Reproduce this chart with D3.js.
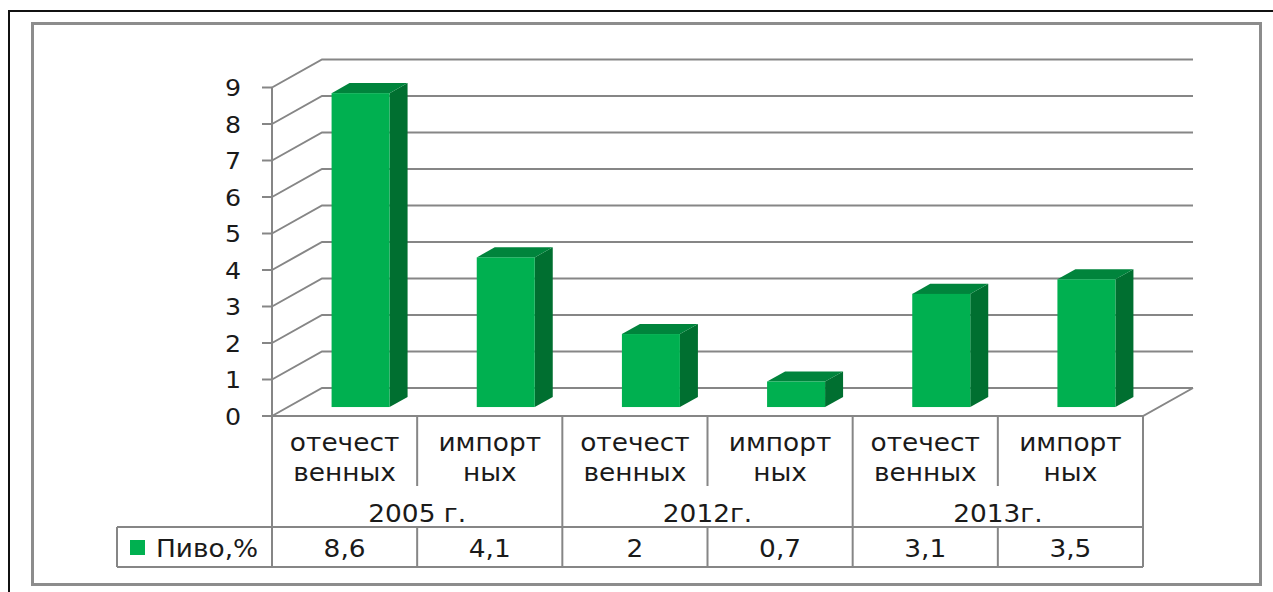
<!DOCTYPE html>
<html>
<head>
<meta charset="utf-8">
<script src="https://cdn.jsdelivr.net/npm/d3@7"></script>
<style>
  body { margin: 0; background: #fff; }
  svg { display: block; }
  text { font-family: "DejaVu Sans", Verdana, sans-serif; fill: #1a1a1a; }
</style>
</head>
<body>
<div id="chart"></div>
<script>
// Chart data
const groups = ["2005 г.", "2012г.", "2013г."];
const categoryLines = [["отечест", "венных"], ["импорт", "ных"]];
const seriesName = "Пиво,%";
const values = [8.6, 4.1, 2, 0.7, 3.1, 3.5];
const valueLabels = ["8,6", "4,1", "2", "0,7", "3,1", "3,5"];
const yTicks = [0, 1, 2, 3, 4, 5, 6, 7, 8, 9];

const width = 1273;
const height = 592;

// 3D depth of the plot box and bar placement inside it
const depthX = 50, depthY = -28;
const barFront = 0.32, barBack = 0.68;
const barWidth = 58;
const stretch = 1.1; // text in the original is a bit wide

const gridColor = "#868686";
const green = "#00b050", greenTop = "#00843c", greenSide = "#006f30";

const svg = d3.select("#chart").append("svg")
    .attr("width", width)
    .attr("height", height);

// Outer borders
svg.append("path")
    .attr("d", "M9,600 L9,11 L1280,11")
    .attr("fill", "none")
    .attr("stroke", "#111")
    .attr("stroke-width", 2);
svg.append("rect")
    .attr("x", 32.5).attr("y", 23.5)
    .attr("width", 1228).attr("height", 561)
    .attr("fill", "none")
    .attr("stroke", "#8c8c8c")
    .attr("stroke-width", 3);

const x = d3.scaleBand()
    .domain(d3.range(values.length))
    .range([272, 1143])
    .padding(0);

const y = d3.scaleLinear()
    .domain([0, 9])
    .range([416, 87.5]);

const x0 = x.range()[0], x1 = x.range()[1];

// Gridlines: left wall diagonal + back wall line
const grid = svg.append("g")
    .attr("fill", "none")
    .attr("stroke", gridColor)
    .attr("stroke-width", 2);

grid.selectAll("path.grid")
    .data(yTicks)
    .join("path")
    .attr("class", "grid")
    .attr("d", v => `M${x0},${y(v)} L${x0 + depthX},${y(v) + depthY} L${x1 + depthX},${y(v) + depthY}`);

// floor front + right edges
grid.append("path")
    .attr("d", `M${x0},${y(0)} L${x1},${y(0)} L${x1 + depthX},${y(0) + depthY}`);

// value axis
grid.append("line")
    .attr("x1", x0).attr("x2", x0)
    .attr("y1", y(0)).attr("y2", y(9));
grid.selectAll("line.tick")
    .data(yTicks)
    .join("line")
    .attr("class", "tick")
    .attr("x1", x0 - 10).attr("x2", x0)
    .attr("y1", d => y(d)).attr("y2", d => y(d));

svg.append("g")
    .attr("font-size", 23)
    .attr("text-anchor", "end")
    .selectAll("text")
    .data(yTicks)
    .join("text")
    .attr("transform", d => `translate(241,${y(d) + 8.5}) scale(${stretch},1)`)
    .text(d => d);

// 3D bars
const bars = svg.append("g")
    .selectAll("g")
    .data(values)
    .join("g");

const fx = (i) => x(i) + x.bandwidth() / 2 + barFront * depthX - barWidth / 2;
const fy0 = y(0) + barFront * depthY;
const bdx = (barBack - barFront) * depthX, bdy = (barBack - barFront) * depthY;
const vy = v => y(v) + barFront * depthY;

bars.append("path")
    .attr("fill", greenSide)
    .attr("d", (d, i) => {
        const l = fx(i) + barWidth;
        return `M${l},${fy0} L${l},${vy(d)} L${l + bdx},${vy(d) + bdy} L${l + bdx},${fy0 + bdy} Z`;
    });
bars.append("path")
    .attr("fill", greenTop)
    .attr("d", (d, i) => {
        const l = fx(i), t = vy(d);
        return `M${l},${t} L${l + bdx},${t + bdy} L${l + barWidth + bdx},${t + bdy} L${l + barWidth},${t} Z`;
    });
bars.append("rect")
    .attr("fill", green)
    .attr("x", (d, i) => fx(i))
    .attr("y", d => vy(d))
    .attr("width", barWidth)
    .attr("height", d => fy0 - vy(d));

// Data table under the chart
const rowTop = y(0), catBottom = 486, dataTop = 527, dataBottom = 567;
const legendLeft = 117;

const table = svg.append("g")
    .attr("fill", "none")
    .attr("stroke", gridColor)
    .attr("stroke-width", 2);

table.append("path")
    .attr("d", `M${legendLeft},${dataTop} L${x1},${dataTop} M${legendLeft},${dataBottom} L${x1},${dataBottom} M${legendLeft},${dataTop} L${legendLeft},${dataBottom} M${x0},${rowTop} L${x0},${dataBottom}`);

table.selectAll("path.div")
    .data(d3.range(1, values.length + 1))
    .join("path")
    .attr("class", "div")
    .attr("d", i => {
        const xx = i < values.length ? x(i) : x1;
        return i % 2 === 0
            ? `M${xx},${rowTop} L${xx},${dataBottom}`
            : `M${xx},${rowTop} L${xx},${catBottom} M${xx},${dataTop} L${xx},${dataBottom}`;
    });

const labels = svg.append("g")
    .attr("font-size", 24)
    .attr("text-anchor", "middle");

const addText = (g, tx, ty, s) => g.append("text")
    .attr("transform", `translate(${tx},${ty}) scale(${stretch},1)`)
    .text(s);

values.forEach((v, i) => {
    const cx = x(i) + x.bandwidth() / 2;
    const lines = categoryLines[i % 2];
    addText(labels, cx, 451, lines[0]);
    addText(labels, cx, 481, lines[1]);
    addText(labels, cx, 557, valueLabels[i]);
});

groups.forEach((g, gi) => {
    const cx = x(gi * 2) + x.bandwidth();
    addText(labels, cx, 522, g);
});

// Legend key in the table
svg.append("rect")
    .attr("x", 130).attr("y", 540)
    .attr("width", 15).attr("height", 15)
    .attr("fill", green);
addText(svg.append("g").attr("font-size", 24), 156, 557, seriesName);
</script>
</body>
</html>
